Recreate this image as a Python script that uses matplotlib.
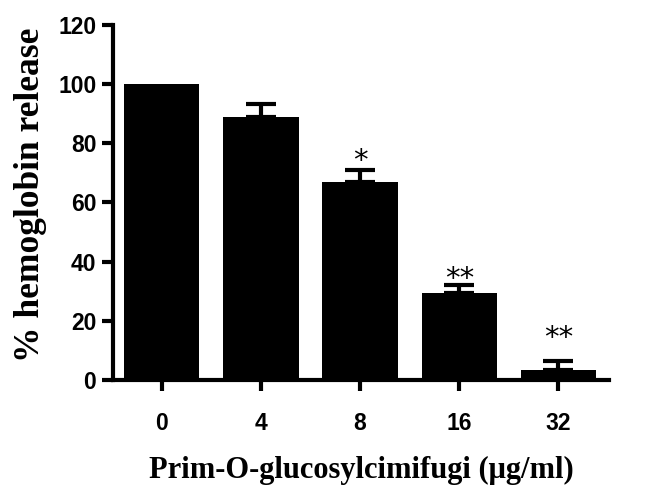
import numpy as np
import matplotlib.pyplot as plt

# 数据
doses = ["0", "4", "8", "16", "32"]
release = [100, 89, 67, 29.5, 3.4]
err_up = [0, 4.3, 4.1, 2.6, 3.0]
marks = ["", "", "*", "**", "**"]
mark_y = [0, 0, 76, 36, 16]

fig = plt.figure(figsize=(6.57, 4.96), dpi=100)
ax = fig.add_axes([0.172, 0.234, 0.755, 0.716])

x = np.arange(len(doses))
ax.bar(x, release, width=0.76, color="black")
has_err = np.array(err_up) > 0
ax.errorbar(x[has_err], np.array(release)[has_err],
            yerr=[np.zeros(has_err.sum()), np.array(err_up)[has_err]],
            fmt="none", ecolor="black", elinewidth=3, capsize=11, capthick=3)
for xi, m, my in zip(x, marks, mark_y):
    if m:
        ax.annotate(m, xy=(xi, my), xytext=(0, -10), textcoords="offset points",
                    ha="center", va="baseline", fontsize=21, family="DejaVu Sans")

ax.set_xlim(-0.49, 4.51)
ax.set_ylim(0, 120)
ax.set_yticks(range(0, 121, 20))
ax.set_xticks(x)
ax.set_xticklabels(doses)
for s in ["top", "right"]:
    ax.spines[s].set_visible(False)
for s in ["left", "bottom"]:
    ax.spines[s].set_linewidth(3)
ax.tick_params(width=3, length=8, labelsize=16.5, pad=4)
for lab in ax.get_xticklabels() + ax.get_yticklabels():
    lab.set_fontweight("bold")
    lab.set_family("Liberation Sans")
ax.tick_params(axis="x", pad=15)

ax.set_ylabel("% hemoglobin release", fontsize=25.5, fontweight="bold",
              family="Liberation Serif", labelpad=8)
ax.set_xlabel("Prim-O-glucosylcimifugi (\u03bcg/ml)", fontsize=22,
              fontweight="bold", family="Liberation Serif", labelpad=15)
ax.yaxis.set_label_coords(-0.172 + 0.038, 0.52)

plt.savefig("out.png", dpi=100)
